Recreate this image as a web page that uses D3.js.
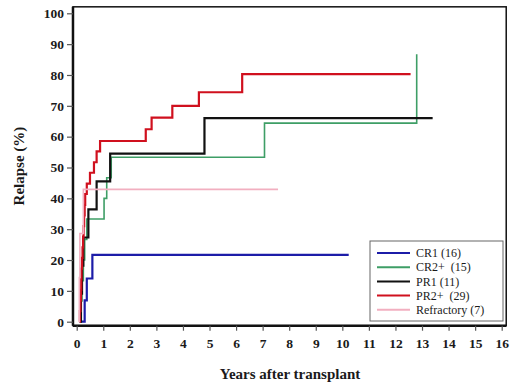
<!DOCTYPE html>
<html lang="en">
<head>
    <meta charset="UTF-8">
    <title>Relapse after transplant</title>
    <script src="https://d3js.org/d3.v7.min.js"></script>
    <style>
        body { margin: 0; background: #fff; }
        .tick text { font-family: "Liberation Serif", serif; font-weight: bold; font-size: 13.5px; fill: #1a1a1a; }
        .axis-label { font-family: "Liberation Serif", serif; font-weight: bold; font-size: 15px; fill: #1a1a1a; }
        .legend text { font-family: "Liberation Serif", serif; font-size: 12px; fill: #1a1a1a; }
    </style>
</head>
<body>
    <svg width="520" height="390"></svg>
    <script>
        // series: years after transplant / cumulative relapse (%)
        const seriesNames = ["CR1 (16)", "CR2+  (15)", "PR1 (11)", "PR2+  (29)", "Refractory (7)"];
        const seriesColors = ["#1c1ca8", "#3e9e66", "#111111", "#d0101e", "#f2afc0"];

        const cr1Years   = [0.1, 0.3, 0.38, 0.59, 10.24];
        const cr1Relapse = [0, 6.9, 14.0, 21.7, 21.7];

        const cr2Years   = [0.1, 0.15, 0.2, 0.25, 0.3, 0.38, 1.03, 1.13, 1.3, 7.07, 12.8];
        const cr2Relapse = [0, 6.7, 13.3, 20.0, 26.7, 33.3, 40.0, 46.7, 53.3, 64.4, 86.7];

        const pr1Years   = [0.12, 0.16, 0.2, 0.25, 0.44, 0.75, 1.26, 4.81, 13.4];
        const pr1Relapse = [0, 9.1, 18.2, 27.3, 36.4, 45.5, 54.5, 66.0, 66.0];

        const pr2Years   = [0.1, 0.12, 0.14, 0.16, 0.17, 0.18, 0.2, 0.22, 0.24, 0.26, 0.28, 0.3, 0.32, 0.38,
                            0.5, 0.65, 0.75, 0.88, 2.6, 2.82, 3.6, 4.6, 6.23, 12.57];
        const pr2Relapse = [0, 3.4, 6.9, 10.3, 13.8, 17.2, 20.7, 24.1, 27.6, 31.0, 34.5, 37.9, 41.4, 44.8,
                            48.3, 51.7, 55.2, 58.6, 62.4, 66.2, 70.0, 74.4, 80.3, 80.3];

        const refYears   = [0.08, 0.1, 0.12, 0.25, 7.58];
        const refRelapse = [0, 14.3, 28.6, 42.9, 42.9];

        const xTicks = d3.range(0, 17);
        const yTicks = d3.range(0, 101, 10);

        const series = [
            [cr1Years, cr1Relapse],
            [cr2Years, cr2Relapse],
            [pr1Years, pr1Relapse],
            [pr2Years, pr2Relapse],
            [refYears, refRelapse]
        ].map(([xs, ys], i) => ({
            name: seriesNames[i],
            color: seriesColors[i],
            points: xs.map((t, j) => [t, ys[j]])
        }));

        const svg = d3.select("svg");
        const x = d3.scaleLinear().domain([0, 16]).range([76.7, 501.7]);
        const y = d3.scaleLinear().domain([0, 100]).range([321.7, 13.3]);

        const frameLeft = x(-0.14), frameRight = x(16.17);
        const frameTop = y(102.1), frameBottom = y(-1.3);

        // frame
        svg.append("rect")
            .attr("x", frameLeft).attr("y", frameTop)
            .attr("width", frameRight - frameLeft).attr("height", frameBottom - frameTop)
            .attr("fill", "none").attr("stroke", "#111").attr("stroke-width", 1.5);

        // axes
        const yAxis = svg.append("g")
            .attr("transform", `translate(${frameLeft},0)`)
            .call(d3.axisLeft(y).tickValues(yTicks).tickSize(6).tickPadding(3));
        const xAxis = svg.append("g")
            .attr("transform", `translate(0,${frameBottom})`)
            .call(d3.axisBottom(x).tickValues(xTicks).tickSize(5).tickPadding(8));
        yAxis.select(".domain").attr("stroke", "#111").attr("stroke-width", 2.5)
            .attr("d", `M0,${frameTop}V${frameBottom}`);
        xAxis.select(".domain").attr("stroke", "#111").attr("stroke-width", 2.5)
            .attr("d", `M${frameLeft},0H${frameRight}`);
        svg.selectAll(".tick line").attr("stroke", "#555").attr("stroke-width", 1.2);

        // curves
        const line = d3.line()
            .x(d => x(d[0]))
            .y(d => y(d[1]))
            .curve(d3.curveStepAfter);
        svg.append("g").selectAll("path")
            .data(series)
            .enter()
            .append("path")
            .attr("d", d => line(d.points))
            .attr("fill", "none")
            .attr("stroke", d => d.color)
            .attr("stroke-width", (d, i) => (i === 1 || i === 4) ? 1.6 : 2.2);

        // axis titles
        svg.append("text")
            .attr("class", "axis-label")
            .attr("x", 290).attr("y", 379)
            .attr("text-anchor", "middle")
            .text("Years after transplant");
        svg.append("text")
            .attr("class", "axis-label")
            .attr("transform", "translate(24,166) rotate(-90)")
            .attr("text-anchor", "middle")
            .text("Relapse (%)");

        // legend
        const legend = svg.append("g").attr("class", "legend");
        legend.append("rect")
            .attr("x", 370).attr("y", 241)
            .attr("width", 133).attr("height", 80)
            .attr("fill", "#fff").attr("stroke", "#666").attr("stroke-width", 1);
        const rows = legend.selectAll(".row")
            .data(series)
            .enter()
            .append("g")
            .attr("class", "row")
            .attr("transform", (d, i) => `translate(0,${253 + i * 14.2})`);
        rows.append("line")
            .attr("x1", 377).attr("x2", 410)
            .attr("stroke", d => d.color).attr("stroke-width", 2);
        rows.append("text")
            .attr("x", 416).attr("dy", "0.35em")
            .style("white-space", "pre")
            .text(d => d.name);
    </script>
</body>
</html>
